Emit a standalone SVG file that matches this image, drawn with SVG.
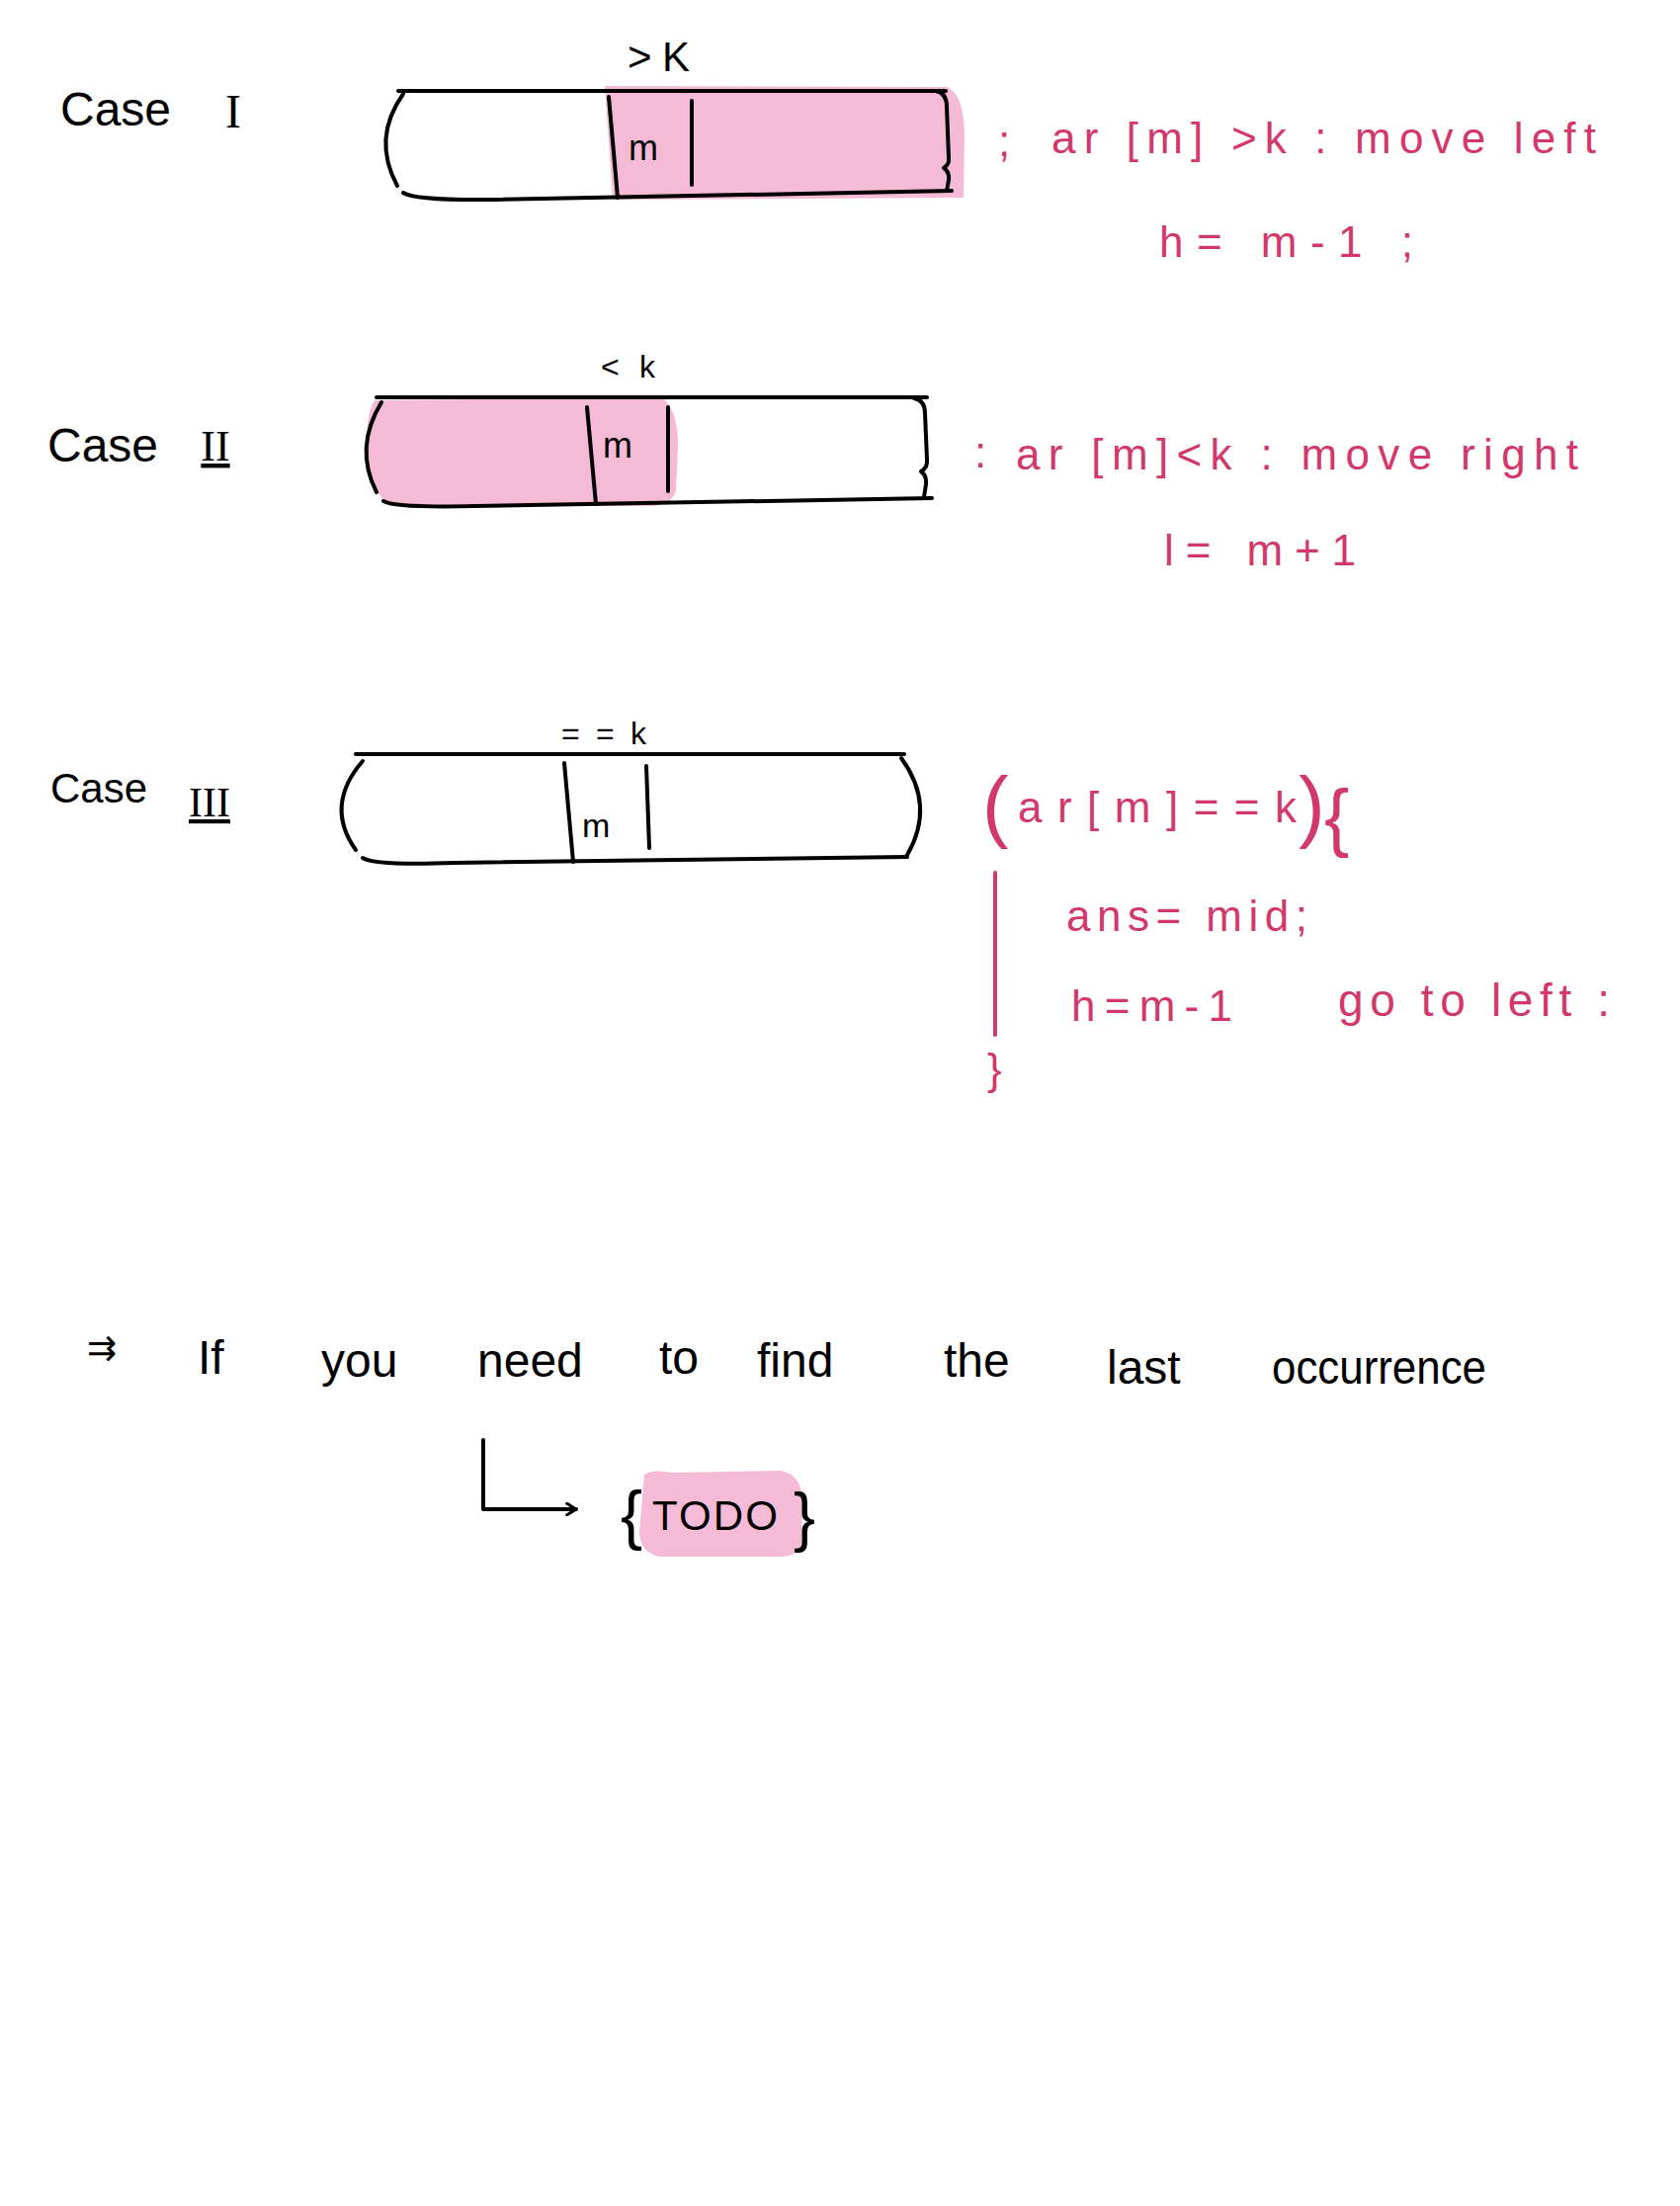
<svg xmlns="http://www.w3.org/2000/svg" width="1700" height="2232" viewBox="0 0 1700 2232">
<defs>
<style>
.ink{fill:none;stroke:#000;stroke-width:4;stroke-linecap:round;stroke-linejoin:round}
.pinkink{fill:none;stroke:#d2386c;stroke-width:4;stroke-linecap:round;stroke-linejoin:round}
.hl{fill:#f5bbd6;stroke:none}
.bk{font-family:"Liberation Sans","DejaVu Sans",sans-serif;fill:#000}
.pk{font-family:"Liberation Sans","DejaVu Sans",sans-serif;fill:#d2386c}
.rn{font-family:"Liberation Serif",serif;fill:#000;text-decoration:underline}
</style>
<marker id="arr" viewBox="0 0 12 12" refX="10" refY="6" markerWidth="14" markerHeight="14" markerUnits="userSpaceOnUse" orient="auto">
<path d="M2,1 L10,6 L2,11" fill="none" stroke="#000" stroke-width="2.5" stroke-linecap="round"/>
</marker>
</defs>
<rect width="1700" height="2232" fill="#fff"/>

<g id="case1">
<text class="bk" x="61" y="127" font-size="48">Case</text>
<text class="rn" x="236" y="129" font-size="48" text-anchor="middle" style="text-decoration:none">I</text>
<text class="bk" x="635" y="72" font-size="42" textLength="63">&gt;K</text>
<path class="hl" d="M612,87 L958,88 Q976,95 976,140 L975,200 L620,202 Z"/>
<path class="ink" d="M403,92 L957,92"/>
<path class="ink" d="M408,95 Q376,140 402,188"/>
<path class="ink" d="M408,195 Q420,203 500,202 L963,193"/>
<path class="ink" d="M947,92 Q958,94 958,108 L960,160 Q961,166 955,170 Q961,174 960,182 L958,193"/>
<path class="ink" d="M616,98 L625,200"/>
<path class="ink" d="M700,102 L700,187"/>
<text class="bk" x="636" y="162" font-size="36">m</text>
</g>

<g id="case1-note">
<text class="pk" x="1010" y="158" font-size="44">;</text>
<text class="pk" x="1064" y="155" font-size="44" textLength="551" lengthAdjust="spacing">ar [m] &gt;k : move left</text>
<text class="pk" x="1173" y="260" font-size="44" textLength="257" lengthAdjust="spacing">h= m-1 ;</text>
</g>

<g id="case2">
<text class="bk" x="48" y="467" font-size="48">Case</text>
<text class="rn" x="218" y="466" font-size="44" text-anchor="middle">II</text>
<text class="bk" x="608" y="382" font-size="32" textLength="55">&lt;k</text>
<path class="hl" d="M380,405 L670,402 Q686,415 686,450 L684,497 Q680,510 660,512 L395,512 Q372,495 370,453 Q372,410 380,405 Z"/>
<path class="ink" d="M381,402 L938,402"/>
<path class="ink" d="M386,407 Q358,453 381,498"/>
<path class="ink" d="M388,507 Q400,514 480,512 L943,504"/>
<path class="ink" d="M925,403 Q936,405 936,418 L938,465 Q939,473 932,477 Q938,481 937,490 L935,503"/>
<path class="ink" d="M594,412 L603,510"/>
<path class="ink" d="M676,412 L676,497"/>
<text class="bk" x="610" y="463" font-size="36">m</text>
</g>

<g id="case2-note">
<text class="pk" x="986" y="473" font-size="44">:</text>
<text class="pk" x="1028" y="475" font-size="44" textLength="569" lengthAdjust="spacing">ar [m]&lt;k : move right</text>
<text class="pk" x="1178" y="572" font-size="44" textLength="194" lengthAdjust="spacing">l= m+1</text>
</g>

<g id="case3">
<text class="bk" x="51" y="812" font-size="42">Case</text>
<text class="rn" x="212" y="826" font-size="42" text-anchor="middle">III</text>
<text class="bk" x="568" y="753" font-size="32" textLength="86">==k</text>
<path class="ink" d="M360,763 L915,763"/>
<path class="ink" d="M367,770 Q328,815 360,860"/>
<path class="ink" d="M912,767 Q947,815 918,865"/>
<path class="ink" d="M367,868 Q380,876 460,873 L918,867"/>
<path class="ink" d="M571,772 L580,872"/>
<path class="ink" d="M654,775 L657,858"/>
<text class="bk" x="589" y="847" font-size="34">m</text>
</g>

<g id="case3-note">
<text class="pk" x="994" y="842" font-size="80" font-weight="300">(</text>
<text class="pk" x="1030" y="832" font-size="44" textLength="282" lengthAdjust="spacing">ar[m]==k</text>
<text class="pk" x="1314" y="842" font-size="80">)</text>
<text class="pk" x="1340" y="852" font-size="76">{</text>
<path class="pinkink" d="M1007,883 L1007,1047"/>
<text class="pk" x="999" y="1097" font-size="44">}</text>
<text class="pk" x="1079" y="942" font-size="44" textLength="244" lengthAdjust="spacing">ans= mid;</text>
<text class="pk" x="1084" y="1033" font-size="44" textLength="163" lengthAdjust="spacing">h=m-1</text>
<text class="pk" x="1354" y="1028" font-size="46" textLength="275" lengthAdjust="spacing">go to left :</text>
</g>

<g id="note">
<text class="bk" font-size="48">
<tspan x="88" y="1376" font-family="DejaVu Sans" font-size="36">⇉</tspan>
<tspan x="200" y="1390">If</tspan>
<tspan x="325" y="1393">you</tspan>
<tspan x="483" y="1393">need</tspan>
<tspan x="667" y="1390">to</tspan>
<tspan x="766" y="1393">find</tspan>
<tspan x="955" y="1393">the</tspan>
<tspan x="1120" y="1400">last</tspan>
<tspan x="1287" y="1400" textLength="217" lengthAdjust="spacingAndGlyphs">occurrence</tspan>
</text>
</g>

<g id="todo">
<path class="hl" d="M652,1492 Q660,1486 680,1490 L790,1488 Q812,1492 812,1520 L811,1560 Q808,1575 790,1575 L668,1575 Q648,1572 647,1550 Z"/>
<text class="bk" x="628" y="1555" font-size="66">{</text>
<text class="bk" x="660" y="1548" font-size="42" textLength="127" lengthAdjust="spacing">TODO</text>
<text class="bk" x="803" y="1557" font-size="66">}</text>
</g>

<g id="connectors">
<path class="ink" d="M489,1457 L489,1527 L583,1527" marker-end="url(#arr)"/>
</g>
</svg>
